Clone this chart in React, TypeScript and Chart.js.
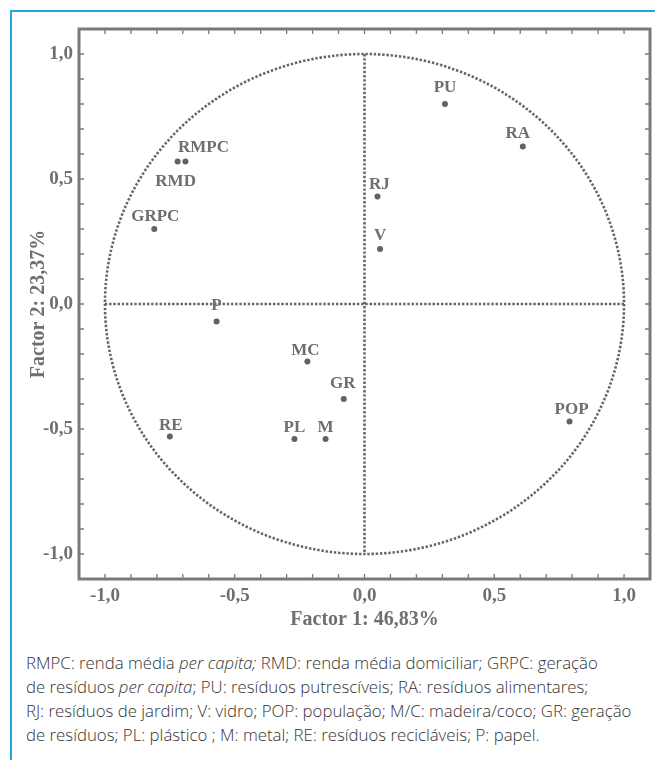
import React, { useEffect, useRef } from "react";
import { Chart, registerables } from "chart.js";

Chart.register(...registerables);

// ---- data ----
const pointLabels = ["PU", "RA", "RJ", "V", "RMPC", "RMD", "GRPC", "P", "MC", "GR", "PL", "M", "RE", "POP"];
const factor1 = [0.31, 0.61, 0.05, 0.06, -0.69, -0.72, -0.81, -0.57, -0.22, -0.08, -0.27, -0.15, -0.75, 0.79];
const factor2 = [0.8, 0.63, 0.43, 0.22, 0.57, 0.57, 0.3, -0.07, -0.23, -0.38, -0.54, -0.54, -0.53, -0.47];
const axisTicks = [-1, -0.5, 0, 0.5, 1];
const xTitle = "Factor 1: 46,83%";
const yTitle = "Factor 2: 23,37%";

// ---- layout (label offsets in px relative to the point) ----
const labelOffsets: Record<string, [number, number]> = {
  PU: [0, -18],
  RA: [-5, -15],
  RJ: [2, -14],
  V: [0, -15],
  RMPC: [18, -16],
  RMD: [-2, 18],
  GRPC: [1, -14],
  P: [0, -18],
  MC: [-2, -13],
  GR: [-1, -17],
  PL: [0, -13],
  M: [0, -13],
  RE: [1, -13],
  POP: [2, -14],
};

const GRAY = "#6f6f6f";
const SERIF = "'Liberation Serif', 'Times New Roman', serif";

const pcaPlugin = {
  id: "pcaDecor",
  beforeDatasetsDraw(chart: any) {
    const { ctx, chartArea, scales } = chart;
    const xs = scales.x;
    const ys = scales.y;
    const cx = xs.getPixelForValue(0);
    const cy = ys.getPixelForValue(0);
    const rx = xs.getPixelForValue(1) - cx;
    const ry = cy - ys.getPixelForValue(1);
    ctx.save();
    // frame
    ctx.strokeStyle = "#7a7a7a";
    ctx.lineWidth = 3;
    ctx.strokeRect(chartArea.left, chartArea.top, chartArea.right - chartArea.left, chartArea.bottom - chartArea.top);
    // minor ticks every 0.1 inward
    ctx.lineWidth = 1.3;
    for (let i = -10; i <= 10; i++) {
      const v = i / 10;
      const px = xs.getPixelForValue(v);
      const py = ys.getPixelForValue(v);
      ctx.beginPath();
      ctx.moveTo(px, chartArea.bottom);
      ctx.lineTo(px, chartArea.bottom - 5);
      ctx.moveTo(px, chartArea.top);
      ctx.lineTo(px, chartArea.top + 5);
      ctx.moveTo(chartArea.left, py);
      ctx.lineTo(chartArea.left + 5, py);
      ctx.moveTo(chartArea.right, py);
      ctx.lineTo(chartArea.right - 5, py);
      ctx.stroke();
    }
    // dotted circle and cross
    ctx.strokeStyle = "#666666";
    ctx.lineWidth = 2.6;
    ctx.setLineDash([2.4, 1.8]);
    ctx.beginPath();
    ctx.ellipse(cx, cy, rx, ry, 0, 0, Math.PI * 2);
    ctx.stroke();
    ctx.beginPath();
    ctx.moveTo(xs.getPixelForValue(-1), cy);
    ctx.lineTo(xs.getPixelForValue(1), cy);
    ctx.moveTo(cx, ys.getPixelForValue(1));
    ctx.lineTo(cx, ys.getPixelForValue(-1));
    ctx.stroke();
    ctx.restore();
  },
  afterDatasetsDraw(chart: any) {
    const { ctx } = chart;
    const meta = chart.getDatasetMeta(0);
    ctx.save();
    ctx.font = `bold 17px ${SERIF}`;
    ctx.fillStyle = GRAY;
    ctx.textAlign = "center";
    ctx.textBaseline = "alphabetic";
    meta.data.forEach((el: any, i: number) => {
      const name = pointLabels[i];
      const off = labelOffsets[name] || [0, -15];
      ctx.fillText(name, el.x + off[0], el.y + off[1] + 6);
    });
    ctx.restore();
  },
};

const fmt = (v: number) => (Math.abs(v) < 1e-9 ? "0,0" : v.toFixed(1).replace(".", ","));

export default function App() {
  const ref = useRef<HTMLCanvasElement | null>(null);
  useEffect(() => {
    if (!ref.current) return;
    const chart = new Chart(ref.current, {
      type: "scatter",
      data: {
        datasets: [
          {
            data: factor1.map((x, i) => ({ x, y: factor2[i] })),
            pointRadius: 3,
            pointBackgroundColor: "#626262",
            pointBorderWidth: 0,
          },
        ],
      },
      options: {
        animation: false,
        responsive: false,
        devicePixelRatio: 1,
        layout: { padding: { left: 0, top: 29, right: 5, bottom: 0 } },
        plugins: { legend: { display: false }, tooltip: { enabled: false } },
        scales: {
          x: {
            type: "linear",
            min: -1.1,
            max: 1.1,
            grid: { display: false, drawTicks: false },
            border: { display: false },
            afterBuildTicks: (s: any) => {
              s.ticks = axisTicks.map((v) => ({ value: v }));
            },
            afterFit: (s: any) => {
              s.height = 61;
            },
            ticks: {
              callback: (v: any) => fmt(Number(v)),
              color: GRAY,
              font: { family: SERIF, size: 19, weight: "bold" },
              padding: 6,
              maxRotation: 0,
            },
            title: {
              display: true,
              text: xTitle,
              color: GRAY,
              font: { family: SERIF, size: 20, weight: "bold" },
              padding: { top: 0, bottom: 8 },
            },
          },
          y: {
            type: "linear",
            min: -1.1,
            max: 1.1,
            grid: { display: false, drawTicks: false },
            border: { display: false },
            afterBuildTicks: (s: any) => {
              s.ticks = axisTicks.map((v) => ({ value: v }));
            },
            afterFit: (s: any) => {
              s.width = 79;
            },
            ticks: {
              callback: (v: any) => fmt(Number(v)),
              color: GRAY,
              font: { family: SERIF, size: 19, weight: "bold" },
              padding: 6,
            },
            title: {
              display: true,
              text: yTitle,
              color: GRAY,
              font: { family: SERIF, size: 20, weight: "bold" },
              padding: { top: 27, bottom: 0 },
            },
          },
        },
      },
      plugins: [pcaPlugin],
    } as any);
    return () => chart.destroy();
  }, []);

  const capStyle: React.CSSProperties = {
    position: "absolute",
    left: 26,
    top: 651,
    fontFamily: "'Open Sans', 'Noto Sans', sans-serif",
    fontWeight: 300,
    fontSize: 16.8,
    lineHeight: "24px",
    color: "#333",
    whiteSpace: "nowrap",
  };

  return (
    <div style={{ position: "absolute", left: 0, top: 0, width: 655, height: 760, background: "#fff", overflow: "hidden" }}>
      <div
        style={{
          position: "absolute",
          left: 10,
          top: 10,
          width: 645,
          height: 750,
          borderLeft: "2px solid #22a6e0",
          borderTop: "2px solid #22a6e0",
          boxSizing: "border-box",
        }}
      />
      <canvas ref={ref} width={655} height={640} style={{ position: "absolute", left: 0, top: 0, width: 655, height: 640 }} />
      <div style={capStyle}>
        RMPC: renda média <i>per capita;</i> RMD: renda média domiciliar; GRPC: geração
        <br />
        de resíduos <i>per capita</i>; PU: resíduos putrescíveis; RA: resíduos alimentares;
        <br />
        RJ: resíduos de jardim; V: vidro; POP: população; M/C: madeira/coco; GR: geração
        <br />
        de resíduos; PL: plástico ; M: metal; RE: resíduos recicláveis; P: papel.
      </div>
    </div>
  );
}
